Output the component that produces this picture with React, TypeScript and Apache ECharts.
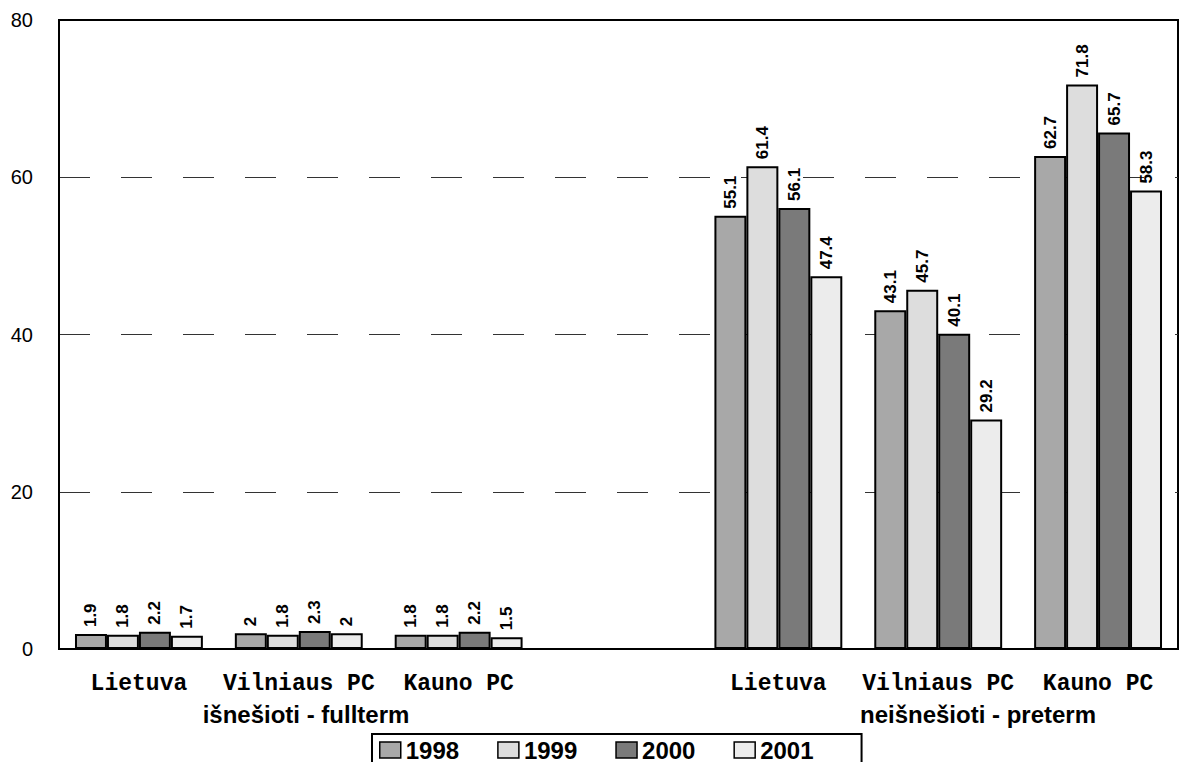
import React, { useEffect, useRef } from "react";
import * as echarts from "echarts";

const categories = ["Lietuva", "Vilniaus PC", "Kauno PC", "", "Lietuva", "Vilniaus PC", "Kauno PC"];
const years = ["1998", "1999", "2000", "2001"];
const values1998 = [1.9, 2, 1.8, null, 55.1, 43.1, 62.7];
const values1999 = [1.8, 1.8, 1.8, null, 61.4, 45.7, 71.8];
const values2000 = [2.2, 2.3, 2.2, null, 56.1, 40.1, 65.7];
const values2001 = [1.7, 2, 1.5, null, 47.4, 29.2, 58.3];
const groupLabels = ["išnešioti - fullterm", "neišnešioti - preterm"];
const yTicks = { min: 0, max: 80, interval: 20 };
const fillColors = ["#a8a8a8", "#dddddd", "#7a7a7a", "#ececec"];

export default function App() {
  const ref = useRef<HTMLDivElement>(null);
  useEffect(() => {
    if (!ref.current) return;
    const chart = echarts.init(ref.current, undefined, { renderer: "svg" });
    const data = [values1998, values1999, values2000, values2001];
    const sans = 'Arial, "Liberation Sans", sans-serif';
    const mono = '"Courier New", "Liberation Mono", monospace';
    const series = years.map((y, i) => ({
      name: y,
      type: "bar",
      data: data[i],
      barGap: "0%",
      barCategoryGap: "20%",
      itemStyle: { color: fillColors[i], borderColor: "#000", borderWidth: 2 },
      label: {
        show: true,
        position: "top",
        rotate: 90,
        align: "left",
        verticalAlign: "middle",
        distance: 7,
        fontFamily: sans,
        fontWeight: "bold",
        fontSize: 17,
        color: "#000",
      },
    }));
    chart.setOption({
      animation: false,
      grid: {
        left: 59,
        right: 1,
        top: 20,
        bottom: 113,
        show: true,
        borderColor: "#000",
        borderWidth: 2,
      },
      legend: {
        left: 372,
        top: 734,
        padding: [4, 48, 40, 7],
        borderColor: "#000",
        borderWidth: 2,
        itemWidth: 21,
        itemHeight: 16,
        itemGap: 38,
        icon: "rect",
        textStyle: { fontFamily: sans, fontWeight: "bold", fontSize: 24, color: "#000" },
        itemStyle: { borderWidth: 1.5, borderColor: "#000" },
        data: years,
      },
      xAxis: {
        type: "category",
        data: categories,
        axisLine: { show: true, lineStyle: { color: "#000", width: 2 } },
        axisTick: { show: false },
        axisLabel: {
          interval: 0,
          margin: 23,
          fontFamily: mono,
          fontWeight: "bold",
          fontSize: 23,
          color: "#000",
        },
      },
      yAxis: {
        type: "value",
        min: yTicks.min,
        max: yTicks.max,
        interval: yTicks.interval,
        axisLine: { show: true, lineStyle: { color: "#000", width: 2 } },
        axisTick: { show: false },
        axisLabel: { margin: 26, fontFamily: sans, fontSize: 20, color: "#000" },
        splitLine: {
          show: true,
          lineStyle: {
            color: ["rgba(0,0,0,0)", "#333", "#333", "#333", "rgba(0,0,0,0)"],
            width: 1,
            type: [31, 31],
          },
        },
      },
      graphic: [
        {
          type: "text",
          x: 306,
          y: 714,
          style: {
            text: groupLabels[0],
            fontFamily: sans,
            fontWeight: "bold",
            fontSize: 24,
            fill: "#000",
            align: "center",
            verticalAlign: "middle",
          },
        },
        {
          type: "text",
          x: 978,
          y: 714,
          style: {
            text: groupLabels[1],
            fontFamily: sans,
            fontWeight: "bold",
            fontSize: 24,
            fill: "#000",
            align: "center",
            verticalAlign: "middle",
          },
        },
      ],
      series,
    });
    return () => chart.dispose();
  }, []);
  return (
    <div
      ref={ref}
      style={{ position: "absolute", left: 0, top: 0, width: 1179, height: 762 }}
    />
  );
}
